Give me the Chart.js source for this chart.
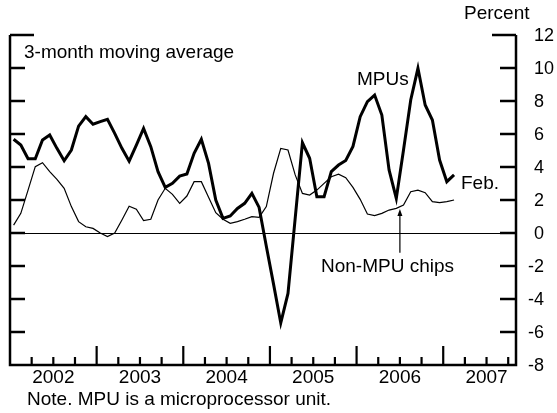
<!DOCTYPE html>
<html>
<head>
<meta charset="utf-8">
<script src="https://cdn.jsdelivr.net/npm/chart.js@4"></script>
<style>
  html, body { margin: 0; padding: 0; background: #fff; }
  #wrap { position: relative; width: 557px; height: 413px; }
</style>
</head>
<body>
<div id="wrap"><canvas id="chart"></canvas></div>
<script>
// monthly, Jan 2002 .. Feb 2007, 3-month moving average, percent
const startYear = 2002;
const mpus = [
  5.68, 5.33, 4.5, 4.5, 5.64, 5.94, 5.13, 4.38, 5.03, 6.48, 7.05, 6.59,
  6.75, 6.89, 6.04, 5.13, 4.35, 5.33, 6.34, 5.23, 3.72, 2.77, 3.01, 3.45,
  3.58, 4.83, 5.68, 4.22, 2.0, 0.89, 1.03, 1.49, 1.8, 2.4, 1.55, -0.8,
  -3.1, -5.45, -3.66, 0.9, 5.47, 4.53, 2.2, 2.2, 3.72, 4.12, 4.4, 5.25,
  7.05, 7.96, 8.36, 7.15, 3.82, 2.1, 5.03, 8.06, 9.98, 7.76, 6.85, 4.42,
  3.11, 3.52
];
const nonMpu = [
  0.48, 1.19, 2.6, 4.02, 4.26, 3.72, 3.25, 2.71, 1.6, 0.69, 0.38, 0.28,
  0.0, -0.22, 0.0, 0.79, 1.62, 1.44, 0.75, 0.83, 2.0, 2.71, 2.34, 1.8,
  2.24, 3.11, 3.11, 2.16, 1.23, 0.83, 0.59, 0.69, 0.83, 0.99, 0.95, 1.6,
  3.62, 5.13, 5.03, 3.52, 2.4, 2.3, 2.6, 3.01, 3.41, 3.56, 3.35, 2.76,
  2.04, 1.15, 1.05, 1.19, 1.39, 1.49, 1.7, 2.5, 2.6, 2.44, 1.9, 1.84,
  1.9, 2.0
];
const yearLabels = ['2002', '2003', '2004', '2005', '2006', '2007'];
const yTicks = [-8, -6, -4, -2, 0, 2, 4, 6, 8, 10, 12];

const FONT = '19px "Liberation Sans", Arial, sans-serif';
const TICK_FONT = '18px "Liberation Sans", Arial, sans-serif';

// month index -> mid-month position in years
const toPoints = arr => arr.map((v, i) => ({ x: startYear + (i + 0.5) / 12, y: v }));

const decorations = {
  id: 'decorations',
  beforeDatasetsDraw(chart) {
    const { ctx, chartArea: a, scales: { y } } = chart;
    const y0 = Math.round(y.getPixelForValue(0)) + 0.5;
    ctx.save();
    ctx.strokeStyle = '#000';
    ctx.lineWidth = 1.2;
    ctx.beginPath();
    ctx.moveTo(a.left, y0);
    ctx.lineTo(a.right, y0);
    ctx.stroke();
    ctx.restore();
  },
  afterDraw(chart) {
    const { ctx, chartArea: a, scales: { x, y } } = chart;
    ctx.save();
    ctx.strokeStyle = '#000';
    ctx.fillStyle = '#000';
    ctx.lineWidth = 2.5;
    ctx.lineCap = 'butt';

    // frame: left, bottom, right
    ctx.beginPath();
    ctx.moveTo(a.left, a.top);
    ctx.lineTo(a.left, a.bottom);
    ctx.lineTo(a.right, a.bottom);
    ctx.lineTo(a.right, a.top);
    ctx.stroke();

    // value ticks on both sides
    yTicks.forEach(v => {
      if (v === -8) return;
      const py = y.getPixelForValue(v);
      const lenL = v === 12 ? 24 : 15;
      const lenR = v === 12 ? 24 : 16;
      ctx.beginPath();
      ctx.moveTo(a.left, py);
      ctx.lineTo(a.left + lenL, py);
      ctx.moveTo(a.right - lenR, py);
      ctx.lineTo(a.right, py);
      ctx.stroke();
    });

    // quarterly ticks, long ones at year starts
    ctx.lineWidth = 2.2;
    yearLabels.forEach(lbl => {
      const yr = +lbl;
      for (let q = 0; q < 4; q++) {
        const px = x.getPixelForValue(yr + q / 4);
        if (px <= a.left + 2 || px >= a.right - 2) continue;
        const len = q === 0 ? 19 : 8;
        ctx.beginPath();
        ctx.moveTo(px, a.bottom);
        ctx.lineTo(px, a.bottom - len);
        ctx.stroke();
      }
    });

    ctx.textBaseline = 'middle';

    // right value labels: digits aligned, minus sign hangs left
    ctx.font = TICK_FONT;
    const lx = a.right + 18;
    yTicks.forEach(v => {
      const py = y.getPixelForValue(v) + 1;
      ctx.textAlign = 'left';
      ctx.fillText(String(Math.abs(v)), lx, py);
      if (v < 0) {
        ctx.textAlign = 'right';
        ctx.fillText('-', lx, py);
      }
    });

    ctx.font = FONT;
    // year labels centred in each year
    ctx.textAlign = 'center';
    yearLabels.forEach(lbl => ctx.fillText(lbl, x.getPixelForValue(+lbl + 0.5), a.bottom + 13));

    ctx.textAlign = 'left';
    ctx.fillText('Percent', 464, 14);
    ctx.fillText('3-month moving average', 24, 53);
    ctx.fillText('MPUs', 357, 80);
    ctx.fillText('Feb.', 461, 184);
    ctx.fillText('Non-MPU chips', 321, 267);
    ctx.fillText('Note. MPU is a microprocessor unit.', 27, 400);

    // arrow to non-MPU line
    const ax = x.getPixelForValue(2006.5);
    const tip = y.getPixelForValue(1.45);
    ctx.lineWidth = 1.2;
    ctx.beginPath();
    ctx.moveTo(ax, y.getPixelForValue(-1.2));
    ctx.lineTo(ax, tip + 4);
    ctx.stroke();
    ctx.beginPath();
    ctx.moveTo(ax, tip);
    ctx.lineTo(ax - 2.5, tip + 7);
    ctx.lineTo(ax + 2.5, tip + 7);
    ctx.closePath();
    ctx.fill();

    ctx.restore();
  }
};

new Chart(document.getElementById('chart'), {
  type: 'line',
  data: {
    datasets: [
      {
        label: 'MPUs',
        data: toPoints(mpus),
        borderColor: '#000',
        borderWidth: 3,
        pointRadius: 0,
        tension: 0
      },
      {
        label: 'Non-MPU chips',
        data: toPoints(nonMpu),
        borderColor: '#000',
        borderWidth: 1.2,
        pointRadius: 0,
        tension: 0
      }
    ]
  },
  options: {
    responsive: true,
    maintainAspectRatio: false,
    animation: false,
    layout: { padding: { left: 10, right: 41, top: 35, bottom: 48 } },
    plugins: { legend: { display: false }, tooltip: { enabled: false } },
    scales: {
      x: { type: 'linear', min: 2002, max: 2007.84, display: false },
      y: { min: -8, max: 12, display: false }
    }
  },
  plugins: [decorations]
});
</script>
</body>
</html>
